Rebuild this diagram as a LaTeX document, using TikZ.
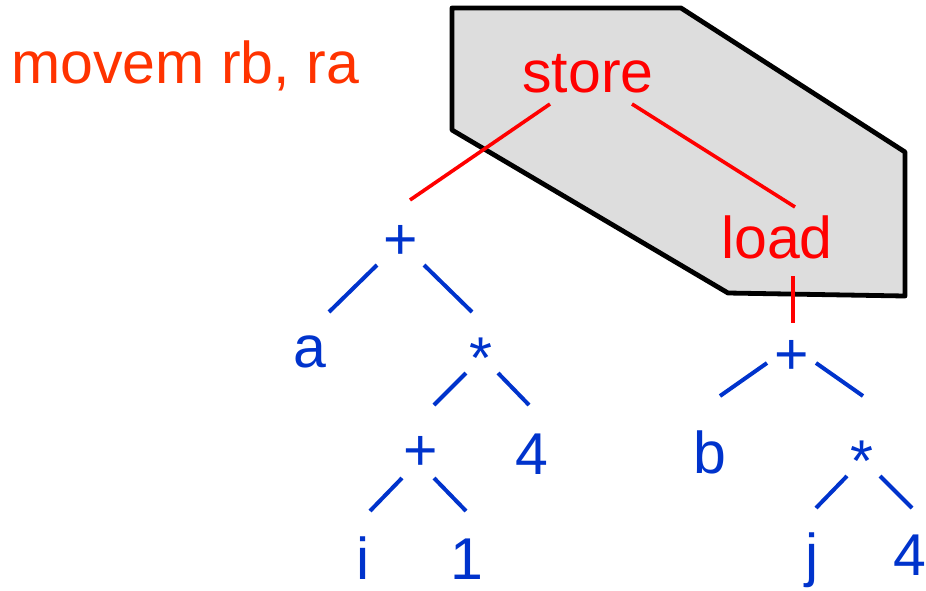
\documentclass[tikz,border=0pt]{standalone}
\usepackage{fontspec}
\setmainfont{Liberation Sans}
\usepackage{tikz}
\definecolor{treeblue}{HTML}{0033CC}
\definecolor{tilered}{HTML}{FF0000}
\definecolor{instrorange}{HTML}{FF3300}
\definecolor{tilegray}{HTML}{DDDDDD}
\tikzset{
  lbl/.style={anchor=base, inner sep=0pt, font=\fontsize{29.5}{34}\selectfont},
  tnode/.style={lbl, text=treeblue},
  rnode/.style={lbl, text=tilered},
  tedge/.style={draw=treeblue, line width=2pt},
  redge/.style={draw=tilered, line width=1.8pt},
}

\begin{document}
\begin{tikzpicture}[x=0.5pt, y=-0.5pt]
  \useasboundingbox (0,0) rectangle (926,590);
  % tile covering store and load
  \filldraw[fill=tilegray, draw=black, line width=2.4pt, line join=round]
    (452,8) -- (681,8) -- (905,152) -- (905,296) -- (728,293) -- (452,130) -- cycle;
  % instruction
  \node[lbl, anchor=base west, text=instrorange] (instr) at (11,83) {movem rb, ra};
  % tile nodes
  \node[rnode] (store) at (588,92) {store};
  \node[rnode] (load) at (777,258) {load};
  % left subtree
  \node[tnode] (plusA) at (401,259) {+};
  \node[tnode] (a) at (310,367) {a};
  \node[tnode] (timesA) at (481,378) {*};
  \node[tnode] (plusB) at (421,470) {+};
  \node[tnode] (fourA) at (532,474) {4};
  \node[tnode] (i) at (363,579) {i};
  \node[tnode] (one) at (467,579) {1};
  % right subtree
  \node[tnode] (plusC) at (792,374) {+};
  \node[tnode] (b) at (710,473) {b};
  \node[tnode] (timesB) at (862,481) {*};
  \node[tnode] (j) at (812,575) {j};
  \node[tnode] (fourB) at (910,575) {4};
  % tile edges
  \draw[redge] ([shift={(-38,12)}]store.base) -- ([shift={(9,-59)}]plusA.base);
  \draw[redge] ([shift={(44,12)}]store.base) -- ([shift={(18,-51)}]load.base);
  \draw[redge] ([shift={(16,18)}]load.base) -- ([shift={(1,-51)}]plusC.base);
  % tree edges
  \draw[tedge] ([shift={(-24,6)}]plusA.base) -- ([shift={(19,-55)}]a.base);
  \draw[tedge] ([shift={(23,6)}]plusA.base) -- ([shift={(-9,-66)}]timesA.base);
  \draw[tedge] ([shift={(-15,-5)}]timesA.base) -- ([shift={(13,-65)}]plusB.base);
  \draw[tedge] ([shift={(17,-5)}]timesA.base) -- ([shift={(-3,-69)}]fourA.base);
  \draw[tedge] ([shift={(-19,8)}]plusB.base) -- ([shift={(7,-68)}]i.base);
  \draw[tedge] ([shift={(13,8)}]plusB.base) -- ([shift={(-1,-68)}]one.base);
  \draw[tedge] ([shift={(-25,-11)}]plusC.base) -- ([shift={(10,-77)}]b.base);
  \draw[tedge] ([shift={(24,-11)}]plusC.base) -- ([shift={(1,-85)}]timesB.base);
  \draw[tedge] ([shift={(-15,-5)}]timesB.base) -- ([shift={(4,-67)}]j.base);
  \draw[tedge] ([shift={(18,-5)}]timesB.base) -- ([shift={(2,-67)}]fourB.base);
\end{tikzpicture}
\end{document}
